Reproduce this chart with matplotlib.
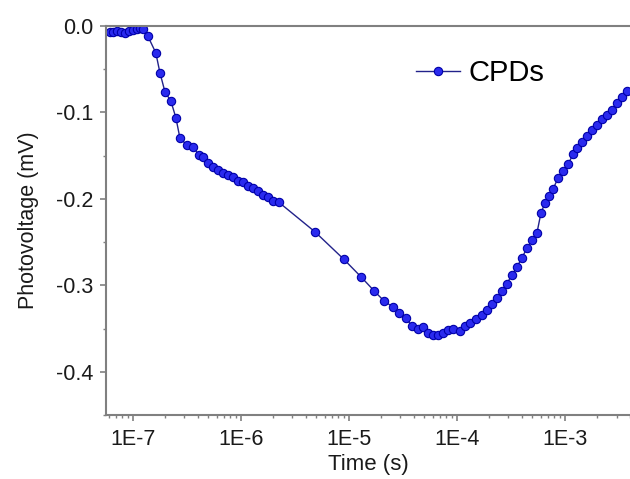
"""
Transient photovoltage of CPDs vs time (log scale).
"""
import matplotlib
matplotlib.use('Agg')
import matplotlib.pyplot as plt
import numpy as np
from matplotlib.ticker import FuncFormatter, MultipleLocator, LogLocator

plt.rcParams['font.family'] = ['Liberation Sans', 'DejaVu Sans']
plt.rcParams['axes.unicode_minus'] = False

# time (s) and photovoltage (mV)
time_s = [
    6.1e-8, 6.5e-8, 7.1e-8, 7.7e-8, 8.4e-8, 9.2e-8, 1.0e-7, 1.09e-7, 1.17e-7,
    1.24e-7, 1.38e-7, 1.63e-7, 1.78e-7, 1.98e-7, 2.25e-7, 2.5e-7, 2.72e-7,
    3.16e-7, 3.59e-7, 4.08e-7, 4.45e-7, 4.95e-7, 5.5e-7, 6.12e-7, 6.81e-7,
    7.58e-7, 8.43e-7, 9.38e-7, 1.04e-6, 1.16e-6, 1.29e-6, 1.44e-6, 1.6e-6,
    1.78e-6, 1.98e-6, 2.25e-6, 4.84e-6, 9.0e-6, 1.29e-5, 1.70e-5, 2.11e-5,
    2.55e-5, 2.9e-5, 3.37e-5, 3.83e-5, 4.35e-5, 4.84e-5, 5.39e-5, 6.0e-5,
    6.67e-5, 7.42e-5, 8.26e-5, 9.18e-5, 1.07e-4, 1.19e-4, 1.32e-4, 1.5e-4,
    1.70e-4, 1.90e-4, 2.11e-4, 2.34e-4, 2.61e-4, 2.9e-4, 3.23e-4, 3.59e-4,
    4.0e-4, 4.45e-4, 4.95e-4, 5.51e-4, 6.0e-4, 6.53e-4, 7.11e-4, 7.74e-4,
    8.61e-4, 9.58e-4, 1.07e-3, 1.19e-3, 1.29e-3, 1.44e-3, 1.60e-3, 1.78e-3,
    1.98e-3, 2.20e-3, 2.45e-3, 2.72e-3, 3.03e-3, 3.37e-3, 3.75e-3,
]
photovoltage = [
    -0.007, -0.007, -0.006, -0.007, -0.008, -0.006, -0.005, -0.003, -0.002,
    -0.004, -0.012, -0.031, -0.054, -0.076, -0.087, -0.106, -0.129,
    -0.138, -0.140, -0.149, -0.151, -0.158, -0.163, -0.166, -0.170,
    -0.172, -0.175, -0.179, -0.181, -0.185, -0.187, -0.191, -0.195,
    -0.198, -0.203, -0.204, -0.238, -0.270, -0.290, -0.306, -0.318,
    -0.325, -0.332, -0.338, -0.347, -0.351, -0.348, -0.355, -0.358,
    -0.358, -0.355, -0.352, -0.351, -0.353, -0.347, -0.343, -0.339,
    -0.334, -0.328, -0.322, -0.315, -0.307, -0.298, -0.288, -0.279,
    -0.268, -0.257, -0.248, -0.239, -0.216, -0.205, -0.197, -0.189,
    -0.176, -0.168, -0.160, -0.148, -0.141, -0.134, -0.127, -0.120,
    -0.114, -0.108, -0.103, -0.097, -0.089, -0.082, -0.075,
]

fig = plt.figure(figsize=(6.3, 4.79), dpi=100)
ax = fig.add_axes([0.168, 0.1336, 0.832, 0.8121])

ax.plot(time_s, photovoltage, color='#22228a', linewidth=1.0,
        marker='o', markersize=6, markerfacecolor='#2a2aee',
        markeredgecolor='#0000a8', markeredgewidth=0.8, label='CPDs')

ax.set_xscale('log')
ax.set_xlim(5.62e-8, 4.0e-3)
ax.set_ylim(-0.45, 0.0)

ax.xaxis.set_major_locator(LogLocator(base=10))
ax.xaxis.set_minor_locator(LogLocator(base=10, subs=np.arange(2, 10)))
ax.xaxis.set_major_formatter(FuncFormatter(lambda v, p: f'1E{int(round(np.log10(v)))}'))
ax.yaxis.set_major_locator(MultipleLocator(0.1))
ax.yaxis.set_minor_locator(MultipleLocator(0.05))
ax.yaxis.set_major_formatter(FuncFormatter(lambda v, p: f'{v:.1f}' if abs(v) > 1e-9 else '0.0'))

for side in ['left', 'bottom', 'top']:
    ax.spines[side].set_color('#808080')
    ax.spines[side].set_linewidth(1.5)
ax.spines['right'].set_visible(False)

ax.tick_params(which='major', direction='out', length=4, width=1.2,
               color='#808080', labelsize=15.5, labelcolor='#1a1a1a')
ax.tick_params(axis='y', which='major', pad=5)
ax.tick_params(axis='x', which='major', pad=6)
ax.tick_params(which='minor', direction='out', length=2.5, width=1.0,
               color='#808080')
ax.tick_params(top=False, right=False, which='both')

ax.set_xlabel('Time (s)', fontsize=16, color='#1a1a1a', labelpad=3)
ax.set_ylabel('Photovoltage (mV)', fontsize=15.5, color='#1a1a1a', labelpad=12)

ax.legend(loc='center', bbox_to_anchor=(0.714, 0.879), frameon=False,
          fontsize=21, handlelength=1.5, handletextpad=0.3)

plt.savefig('out.png', dpi=100)
plt.close()
